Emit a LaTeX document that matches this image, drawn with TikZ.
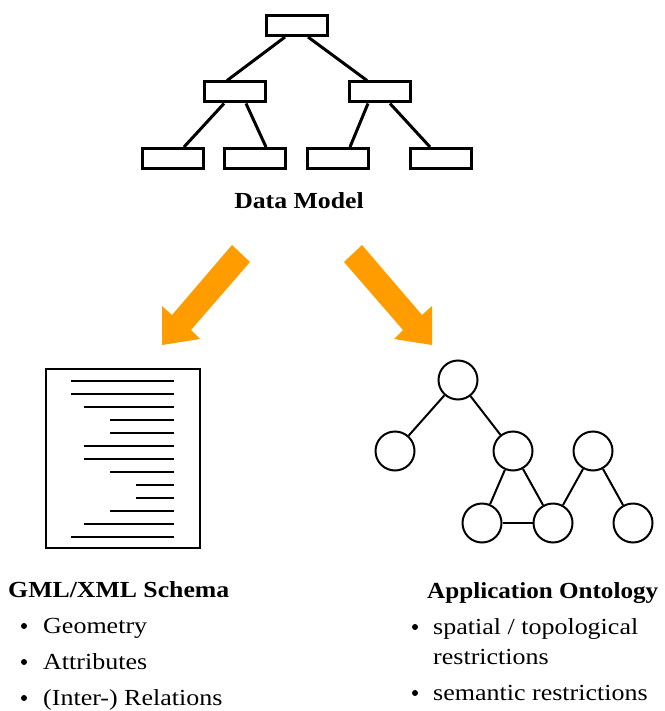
\documentclass[tikz,border=0pt]{standalone}
\usepackage{fontspec}
\setmainfont{Liberation Serif}
\usetikzlibrary{calc}
\definecolor{arroworange}{RGB}{255,156,0}
\begin{document}
\begin{tikzpicture}[x=1pt,y=-1pt,
  tbox/.style={draw,line width=3pt,minimum width=61pt,minimum height=20pt,inner sep=0pt},
  tedge/.style={line width=3pt},
  onode/.style={draw,circle,line width=2pt,minimum size=39pt,inner sep=0pt},
  oedge/.style={line width=2pt},
  docline/.style={line width=1.8pt},
  head/.style={font=\fontsize{23}{27}\selectfont\bfseries,inner sep=0pt,anchor=base west,transform shape,xscale=1.12},
  head c/.style={font=\fontsize{23}{27}\selectfont\bfseries,inner sep=0pt,anchor=base,transform shape,xscale=1.12},
  itemtext/.style={font=\fontsize{23}{27}\selectfont,inner sep=0pt,anchor=base west,transform shape,xscale=1.13},
  bul/.style={circle,fill=black,inner sep=0pt,minimum size=6pt}
]
\useasboundingbox (0,0) rectangle (664,711);

% ---- Data model tree
\node[tbox] (top) at (297,25.5) {};
\node[tbox] (ml) at (235,92) {};
\node[tbox] (mr) at (379.5,92) {};
\node[tbox] (b1) at (172.5,158.5) {};
\node[tbox] (b2) at (255,158.5) {};
\node[tbox] (b3) at (338,158.5) {};
\node[tbox] (b4) at (441,158.5) {};
\draw[tedge] ([xshift=-12pt]top.south) -- ([xshift=-8pt]ml.north);
\draw[tedge] ([xshift=11pt]top.south) -- ([xshift=-12.5pt]mr.north);
\draw[tedge] ([xshift=-11pt]ml.south) -- ([xshift=11.5pt]b1.north);
\draw[tedge] ([xshift=11pt]ml.south) -- ([xshift=11pt]b2.north);
\draw[tedge] ([xshift=-11.5pt]mr.south) -- ([xshift=12pt]b3.north);
\draw[tedge] ([xshift=10.5pt]mr.south) -- ([xshift=-11pt]b4.north);
\node[head c] (dm) at (299,209) {Data Model};

% ---- orange arrows
\fill[arroworange] (232,245) -- (250,262) -- (191,330) -- (200,339) -- (162,345) -- (162,306) -- (172,315) -- cycle;
\fill[arroworange] (362,245) -- (344,262) -- (403,330) -- (394,339) -- (432,345) -- (432,306) -- (422,315) -- cycle;

% ---- document icon
\draw[line width=1.8pt] (46,369) rectangle (200,548);
\foreach \y/\s in {380.7/71,394/71,406.7/84,419.7/110,432.7/110,445.7/84,458.7/84,471.7/110,484.7/136,497.7/136,510.7/110,523.7/84,536.7/71}
  \draw[docline] (\s,\y) -- (174,\y);

% ---- ontology graph
\node[onode] (n1) at (458,380) {};
\node[onode] (n2) at (395,451) {};
\node[onode] (n3) at (513,451) {};
\node[onode] (n4) at (593,451) {};
\node[onode] (n5) at (482,523) {};
\node[onode] (n6) at (553,523) {};
\node[onode] (n7) at (633,523) {};
\draw[oedge] (n1) -- (n2);
\draw[oedge] (n1) -- (n3);
\draw[oedge] (n3) -- (n5);
\draw[oedge] (n3) -- (n6);
\draw[oedge] (n5) -- (n6);
\draw[oedge] (n4) -- (n6);
\draw[oedge] (n4) -- (n7);

% ---- left text
\node[head] (gml) at (8,597) {GML/XML Schema};
\node[bul] (bl1) at (24,626) {};
\node[itemtext] (t1) at (43,633) {Geometry};
\node[bul] (bl2) at (24,662) {};
\node[itemtext] (t2) at (43,669) {Attributes};
\node[bul] (bl3) at (24,698) {};
\node[itemtext] (t3) at (43,705) {(Inter-) Relations};

% ---- right text
\node[head,xscale=0.975] (ao) at (427,598) {Application Ontology};
\node[bul] (br1) at (415,627) {};
\node[itemtext] (r1) at (433,634) {spatial / topological};
\node[itemtext] (r2) at (433,664) {restrictions};
\node[bul] (br2) at (415,693) {};
\node[itemtext] (r3) at (433,700) {semantic restrictions};
\end{tikzpicture}
\end{document}
